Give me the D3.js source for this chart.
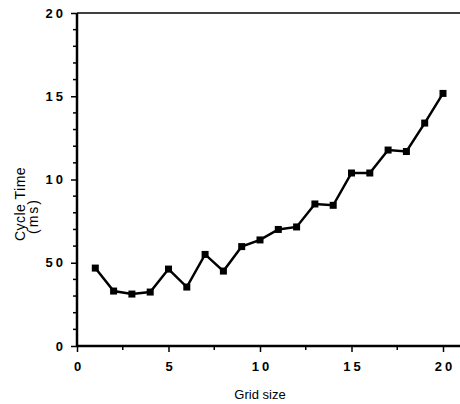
<!DOCTYPE html>
<html>
<head>
<meta charset="utf-8">
<script src="https://cdn.jsdelivr.net/npm/d3@7"></script>
<style>
  body { margin: 0; background: #fff; }
  text { font-family: "Liberation Sans", Arial, sans-serif; fill: #000; }
</style>
</head>
<body>
<div id="chart"></div>
<script>
// grid sizes and measured cycle times
var gridSize = [1, 2, 3, 4, 5, 6, 7, 8, 9, 10, 11, 12, 13, 14, 15, 16, 17, 18, 19, 20];
var cycleTime = [4.68, 3.3, 3.12, 3.24, 4.62, 3.54, 5.5, 4.5, 5.97, 6.37, 7.0, 7.15, 8.53, 8.45, 10.39, 10.39, 11.77, 11.68, 13.39, 15.17];

var xTicks = [0, 5, 10, 15, 20];
var xTickLabels = ["0", "5", "10", "15", "20"];
var yTicks = [0, 5, 10, 15, 20];
var yTickLabels = ["0", "50", "10", "15", "20"];

var width = 460, height = 404;

var svg = d3.select("#chart")
	.append("svg")
	.attr("width", width)
	.attr("height", height);

var x = d3.scaleLinear().domain([0, 20]).range([77, 443]);
var y = d3.scaleLinear().domain([0, 20]).range([346, 13]);

// minor ticks
var xMinor = d3.range(0, 20.01, 2.5).filter(function(d) { return xTicks.indexOf(d) < 0; });
var yMinor = d3.range(0, 20.01, 1).filter(function(d) { return yTicks.indexOf(d) < 0; });

svg.selectAll(".xminor")
	.data(xMinor)
	.enter().append("line")
	.attr("x1", function(d) { return x(d); })
	.attr("x2", function(d) { return x(d); })
	.attr("y1", y(0))
	.attr("y2", y(0) + 4)
	.attr("stroke", "#000")
	.attr("stroke-width", 1.5);

svg.selectAll(".yminor")
	.data(yMinor)
	.enter().append("line")
	.attr("x1", x(0) - 4)
	.attr("x2", x(0))
	.attr("y1", function(d) { return y(d); })
	.attr("y2", function(d) { return y(d); })
	.attr("stroke", "#000")
	.attr("stroke-width", 1.5);

// x axis
var xAxis = svg.append("g")
	.attr("transform", "translate(0," + y(0) + ")")
	.call(d3.axisBottom(x)
		.tickValues(xTicks)
		.tickSize(6)
		.tickPadding(10)
		.tickFormat(function(d, i) { return xTickLabels[i]; }));
xAxis.select(".domain").remove();
xAxis.selectAll(".tick line").attr("stroke-width", 1.5);
xAxis.selectAll(".tick text")
	.attr("font-size", 13)
	.attr("font-weight", "bold")
	.attr("letter-spacing", "3px")
	.attr("dx", "1.5px")
	.attr("font-family", "Liberation Sans, Arial, sans-serif");

// y axis
var yAxis = svg.append("g")
	.attr("transform", "translate(" + x(0) + ",0)")
	.call(d3.axisLeft(y)
		.tickValues(yTicks)
		.tickSize(6)
		.tickPadding(5)
		.tickFormat(function(d, i) { return yTickLabels[i]; }));
yAxis.select(".domain").remove();
yAxis.selectAll(".tick line").attr("stroke-width", 1.5);
yAxis.selectAll(".tick text")
	.attr("font-size", 13)
	.attr("font-weight", "bold")
	.attr("letter-spacing", "3px")
	.attr("font-family", "Liberation Sans, Arial, sans-serif");

// frame lines: left, bottom and top run to the edge
svg.append("line")
	.attr("x1", x(0)).attr("x2", x(0))
	.attr("y1", y(20)).attr("y2", y(0))
	.attr("stroke", "#000").attr("stroke-width", 2.5);
svg.append("line")
	.attr("x1", x(0)).attr("x2", width)
	.attr("y1", y(0)).attr("y2", y(0))
	.attr("stroke", "#000").attr("stroke-width", 2.5);
svg.append("line")
	.attr("x1", x(0)).attr("x2", width)
	.attr("y1", y(20)).attr("y2", y(20))
	.attr("stroke", "#000").attr("stroke-width", 1.5);

// series
var line = d3.line()
	.x(function(d, i) { return x(gridSize[i]); })
	.y(function(d) { return y(d); });

svg.append("path")
	.datum(cycleTime)
	.attr("d", line)
	.attr("fill", "none")
	.attr("stroke", "#000")
	.attr("stroke-width", 2.5);

svg.selectAll(".pt")
	.data(cycleTime)
	.enter().append("rect")
	.attr("x", function(d, i) { return x(gridSize[i]) - 3.5; })
	.attr("y", function(d) { return y(d) - 3.5; })
	.attr("width", 7)
	.attr("height", 7)
	.attr("fill", "#000");

// titles
svg.append("text")
	.attr("x", (x(0) + x(20)) / 2)
	.attr("y", 399)
	.attr("text-anchor", "middle")
	.attr("font-size", 13)
	.text("Grid size");

svg.append("g")
	.attr("transform", "translate(25,204) rotate(-90)")
	.append("text")
	.attr("text-anchor", "middle")
	.attr("font-size", 14)
	.attr("letter-spacing", "0.5px")
	.text("Cycle Time");

svg.append("g")
	.attr("transform", "translate(38,216) rotate(-90)")
	.append("text")
	.attr("text-anchor", "middle")
	.attr("font-size", 14)
	.attr("letter-spacing", "2px")
	.text("(ms)");
</script>
</body>
</html>
